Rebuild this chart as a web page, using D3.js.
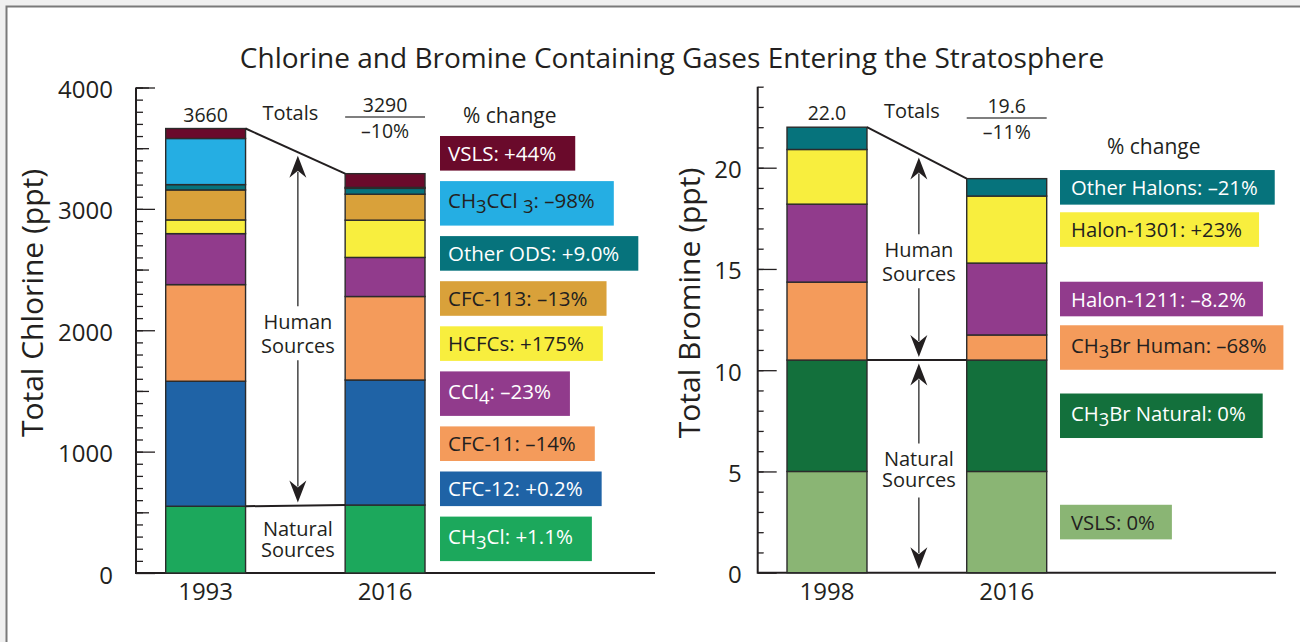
<!DOCTYPE html>
<html>
<head>
<meta charset="utf-8">
<script src="https://cdn.jsdelivr.net/npm/d3@7"></script>
<style>
  body { margin: 0; background: #f0f0f0; }
  svg { display: block; font-family: "Open Sans", sans-serif; }
  text { fill: #231f20; }
</style>
</head>
<body>
<script>
// chlorine panel
var clYears = ["1993", "2016"];
var clNames = ["CH_3Cl", "CFC-12", "CFC-11", "CCl_4", "HCFCs", "CFC-113", "Other ODS", "CH_3CCl _3", "VSLS"];
var cl1993 = [550, 1030, 796, 420, 113, 247, 44, 380, 82];
var cl2016 = [560, 1030, 688, 322, 307, 214, 48, 8, 113];
var clChange = ["+1.1%", "+0.2%", "\u201314%", "\u201323%", "+175%", "\u201313%", "+9.0%", "\u201398%", "+44%"];
var clTotals = ["3660", "3290"];
var clTotalChange = "\u201310%";
var clTicks = [0, 1000, 2000, 3000, 4000];

// bromine panel
var brYears = ["1998", "2016"];
var brNames = ["VSLS", "CH_3Br Natural", "CH_3Br Human", "Halon-1211", "Halon-1301", "Other Halons"];
var br1998 = [5.0, 5.5, 3.85, 3.85, 2.7, 1.1];
var br2016 = [5.0, 5.5, 1.24, 3.55, 3.31, 0.86];
var brChange = ["0%", "0%", "\u201368%", "\u20138.2%", "+23%", "\u201321%"];
var brTotals = ["22.0", "19.6"];
var brTotalChange = "\u201311%";
var brTicks = [0, 5, 10, 15, 20];

var clColors = ["#1ca85c", "#1f63a6", "#f49b5b", "#913b8c", "#f8ee3e", "#d9a13a", "#06737c", "#25aee3", "#6a0a2b"];
var clLight = [true, true, false, true, false, false, true, false, true];
var brColors = ["#8ab574", "#13703c", "#f49b5b", "#913b8c", "#f8ee3e", "#06737c"];
var brLight = [false, true, false, true, false, true];

var width = 1300,
    height = 642,
    ink = "#231f20";

var svg = d3.select("body").append("svg")
    .attr("width", width)
    .attr("height", height);

svg.append("rect").attr("width", width).attr("height", height).attr("fill", "#f0f0f0");
svg.append("rect").attr("x", 6).attr("y", 6).attr("width", width).attr("height", height)
    .attr("fill", "#fff");
svg.append("path").attr("d", "M6.5," + height + "V6.5H" + width)
    .attr("fill", "none").attr("stroke", "#7a7a7a").attr("stroke-width", 2);

svg.append("text")
    .attr("x", 672).attr("y", 68)
    .attr("text-anchor", "middle")
    .attr("font-size", 28)
    .text("Chlorine and Bromine Containing Gases Entering the Stratosphere");

// writes "CH_3Cl" style labels with subscripts
function richText(sel, str) {
  var sub = false;
  str.split(/(_\d)/).forEach(function(p) {
    if (!p) return;
    if (p[0] === "_") {
      sel.append("tspan").attr("dy", 5).attr("font-size", "0.9em").text(p.slice(1));
      sub = true;
    } else {
      sel.append("tspan").attr("dy", sub ? -5 : 0).text(p);
      sub = false;
    }
  });
}

function arrow(g, x, tip, dir) {
  // dir = -1 points up, +1 points down
  g.append("path")
    .attr("d", "M" + x + "," + tip +
      "L" + (x - 8.5) + "," + (tip - dir * 22) +
      "L" + x + "," + (tip - dir * 15) +
      "L" + (x + 8.5) + "," + (tip - dir * 22) + "Z")
    .attr("fill", ink);
}

function shaft(g, x, y0, y1) {
  g.append("line").attr("x1", x).attr("x2", x).attr("y1", y0).attr("y2", y1)
    .attr("stroke", "#444").attr("stroke-width", 1.5);
}

function panel(o) {
  var g = svg.append("g");
  var y = d3.scaleLinear().domain([0, o.max]).range([o.y0, o.y1]);
  var x = d3.scaleBand().domain(o.years).range(o.xr).paddingInner(0.555);

  // axis lines
  g.append("path")
    .attr("d", "M" + o.ax + "," + o.y1 + "V" + o.y0 + "H" + o.axEnd)
    .attr("fill", "none").attr("stroke", ink).attr("stroke-width", 2);

  // minor ticks
  g.append("g").attr("transform", "translate(" + o.ax + ",0)")
    .call(d3.axisLeft(y).tickValues(d3.range(o.minor, o.max + 1e-9, o.minor)).tickSize(-o.minorLen).tickFormat(""))
    .call(function(a) { a.select(".domain").remove(); a.selectAll("line").attr("stroke", ink).attr("stroke-width", 1.3); });
  if (o.mid) {
    g.append("g").attr("transform", "translate(" + o.ax + ",0)")
      .call(d3.axisLeft(y).tickValues(o.mid).tickSize(-13).tickFormat(""))
      .call(function(a) { a.select(".domain").remove(); a.selectAll("line").attr("stroke", ink).attr("stroke-width", 1.3); });
  }
  g.append("g").attr("transform", "translate(" + o.ax + ",0)")
    .call(d3.axisLeft(y).tickValues(o.ticks).tickSize(-19).tickPadding(o.pad).tickFormat(d3.format("d")))
    .call(function(a) {
      a.select(".domain").remove();
      a.selectAll("line").attr("stroke", ink).attr("stroke-width", 1.3);
      a.selectAll("text").attr("font-size", 24).attr("font-family", "Open Sans").attr("fill", ink).attr("dy", 10);
    });

  // x labels
  g.selectAll(".yr").data(o.years).enter().append("text")
    .attr("x", function(d) { return x(d) + x.bandwidth() / 2; })
    .attr("y", 600)
    .attr("text-anchor", "middle")
    .attr("font-size", 24)
    .text(function(d) { return d; });

  // y title
  g.append("text")
    .attr("transform", "translate(" + o.titleX + "," + 303 + ") rotate(-90)")
    .attr("text-anchor", "middle")
    .attr("font-size", 30)
    .text(o.title);

  // stacked bars
  var tops = [];
  o.values.forEach(function(vals, i) {
    var acc = 0;
    var segs = vals.map(function(v, k) { var s = { k: k, a: acc, b: acc + v }; acc += v; return s; });
    tops.push(segs);
    g.selectAll(".seg" + i).data(segs).enter().append("rect")
      .attr("x", x(o.years[i]))
      .attr("width", x.bandwidth())
      .attr("y", function(d) { return y(d.b); })
      .attr("height", function(d) { return y(d.a) - y(d.b); })
      .attr("fill", function(d) { return o.colors[d.k]; })
      .attr("stroke", "#2b2b2b")
      .attr("stroke-width", 1.4);
  });

  var xl = x(o.years[0]) + x.bandwidth(),
      xr = x(o.years[1]),
      xm = (xl + xr) / 2;
  var t0 = y(tops[0][tops[0].length - 1].b),
      t1 = y(tops[1][tops[1].length - 1].b),
      n0 = y(tops[0][o.natural - 1].b),
      n1 = y(tops[1][o.natural - 1].b);

  g.append("line").attr("x1", xl).attr("y1", t0).attr("x2", xr).attr("y2", t1)
    .attr("stroke", ink).attr("stroke-width", 2);
  g.append("line").attr("x1", xl).attr("y1", n0).attr("x2", xr).attr("y2", n1)
    .attr("stroke", ink).attr("stroke-width", 2);

  // totals
  g.append("text").attr("x", x(o.years[0]) + x.bandwidth() / 2).attr("y", t0 - 7)
    .attr("text-anchor", "middle").attr("font-size", 19.5).text(o.totals[0]);
  g.append("text").attr("x", xm - 5).attr("y", t0 - 9)
    .attr("text-anchor", "middle").attr("font-size", 20).text("Totals");
  var xc1 = x(o.years[1]) + x.bandwidth() / 2;
  g.append("text").attr("x", xc1).attr("y", o.totY)
    .attr("text-anchor", "middle").attr("font-size", 19.5).text(o.totals[1]);
  g.append("line").attr("x1", xr).attr("x2", xr + x.bandwidth())
    .attr("y1", o.totY + 5).attr("y2", o.totY + 5)
    .attr("stroke", "#555").attr("stroke-width", 1.3);
  g.append("text").attr("x", xc1).attr("y", o.totY + 26)
    .attr("text-anchor", "middle").attr("font-size", 19.5).text(o.totalChange);

  // arrows and source labels
  var ax = xm + o.arrowDx;
  var slant = t0 + (ax - xl) / (xr - xl) * (t1 - t0);
  var nat = n0 + (ax - xl) / (xr - xl) * (n1 - n0);
  var hTop = slant + 3.5, hBot = nat - 3;
  var hMid = (hTop + hBot) / 2;
  arrow(g, ax, hTop, -1);
  arrow(g, ax, hBot, 1);
  shaft(g, ax, hTop + 16, hMid - 23);
  shaft(g, ax, hMid + 31, hBot - 16);
  g.append("text").attr("x", ax).attr("y", hMid).attr("text-anchor", "middle").attr("font-size", 20).text("Human");
  g.append("text").attr("x", ax).attr("y", hMid + 24).attr("text-anchor", "middle").attr("font-size", 20).text("Sources");

  if (o.natArrows) {
    var nTop = nat + 3.5, nBot = o.y0 - 3.5;
    var nMid = (nTop + nBot) / 2;
    arrow(g, ax, nTop, -1);
    arrow(g, ax, nBot, 1);
    shaft(g, ax, nTop + 16, nMid - 23);
    shaft(g, ax, nMid + 31, nBot - 16);
    g.append("text").attr("x", ax).attr("y", nMid).attr("text-anchor", "middle").attr("font-size", 20).text("Natural");
    g.append("text").attr("x", ax).attr("y", nMid + 21).attr("text-anchor", "middle").attr("font-size", 20).text("Sources");
  } else {
    g.append("text").attr("x", ax).attr("y", n0 + 30).attr("text-anchor", "middle").attr("font-size", 20).text("Natural");
    g.append("text").attr("x", ax).attr("y", n0 + 51).attr("text-anchor", "middle").attr("font-size", 20).text("Sources");
  }

  // % change legend
  g.append("text").attr("x", o.legX + o.pcDx).attr("y", o.pcY).attr("font-size", 21).text("% change");
  var boxes = o.names.map(function(nm, k) {
    return { k: k, label: nm + ": " + o.change[k], tall: nm.indexOf("_") >= 0 };
  });
  var cursor = o.legTop;
  var order = o.names.map(function(d, k) { return k; }).reverse();
  order.forEach(function(k) {
    var b = boxes[k];
    var h = b.tall ? 44.5 : 34.6;
    var top;
    if (o.legAlign) {
      var s = tops[1][k];
      top = (y(s.a) + y(s.b)) / 2 - h / 2;
    } else {
      top = cursor;
      cursor += h + 10.5;
    }
    var bg = g.append("g");
    var r = bg.append("rect").attr("x", o.legX).attr("y", top).attr("height", h)
      .attr("fill", o.colors[k]);
    var t = bg.append("text").attr("x", o.legX + o.padL).attr("y", top + h / 2 + (b.tall ? 5 : 7.5))
      .attr("font-size", o.legFont)
      .style("fill", o.light[k] ? "#fff" : ink);
    richText(t, b.label);
    r.attr("width", t.node().getComputedTextLength() + o.padL + o.padR);
  });
}

panel({
  years: clYears, values: [cl1993, cl2016], names: clNames, change: clChange,
  colors: clColors, light: clLight, totals: clTotals, totalChange: clTotalChange,
  max: 4000, ticks: clTicks, minor: 100, minorLen: 7, mid: [500, 1500, 2500, 3500, 4000],
  y0: 573, y1: 87.5, ax: 136, axEnd: 655, xr: [165.7, 425], pad: 23,
  titleX: 43, title: "Total Chlorine (ppt)", natural: 1, natArrows: false, arrowDx: 2.5,
  totY: 112, legX: 440, pcDx: 23, pcY: 123, legTop: 136, legAlign: false,
  legFont: 20.5, padL: 8, padR: 19
});

panel({
  years: brYears, values: [br1998, br2016], names: brNames, change: brChange,
  colors: brColors, light: brLight, totals: brTotals, totalChange: brTotalChange,
  max: 24, ticks: brTicks, minor: 1, minorLen: 6, mid: null,
  y0: 572.7, y1: 86.7, ax: 757.7, axEnd: 1276, xr: [787, 1046.7], pad: 16,
  titleX: 700, title: "Total Bromine (ppt)", natural: 2, natArrows: true, arrowDx: 2,
  totY: 113, legX: 1060, pcDx: 47, pcY: 154, legTop: 170, legAlign: true,
  legFont: 20.3, padL: 11, padR: 17
});
</script>
</body>
</html>
